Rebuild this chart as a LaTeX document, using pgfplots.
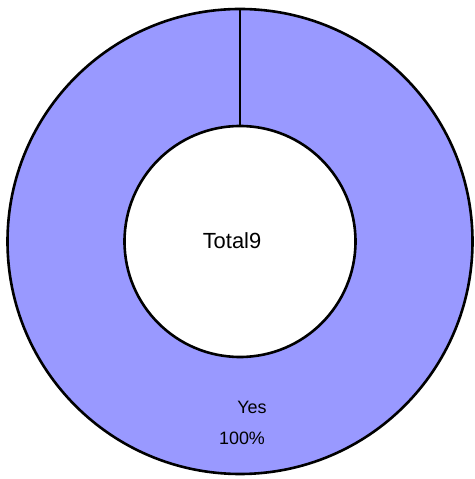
\documentclass[border=0pt]{standalone}
\usepackage{pgfplots}
\pgfplotsset{compat=1.18}
\usepackage{pgfplotstable}
\usepackage{fontspec}
\setmainfont{Liberation Sans}
\definecolor{slice}{HTML}{9999FF}
\pgfplotstableread{
label value
Yes 9
}\datatable
\pgfplotstablegetelem{0}{value}\of\datatable
\let\yesval\pgfplotsretval
\begin{document}
\begin{tikzpicture}
\begin{axis}[width=475bp,height=479bp,scale only axis,
  xmin=0,xmax=475,ymin=0,ymax=479,hide axis,clip=false]
\path (rel axis cs:0,0) rectangle (rel axis cs:1,1);
\pgfmathtruncatemacro{\total}{\yesval}
\pgfmathtruncatemacro{\pct}{round(100*\yesval/\total)}
\pgfmathsetmacro{\ang}{90-360*\yesval/\total}
% ring
\fill[slice, even odd rule] (axis cs:240,237.5) circle[radius=232.5]
  (axis cs:240,237.5) circle[radius=115.5];
\draw[line width=2.6bp] (axis cs:240,237.5) circle[radius=232.5];
\draw[line width=2.6bp] (axis cs:240,237.5) circle[radius=115.5];
% slice boundaries
\draw[line width=2.6bp] (axis cs:{240+115.5*cos(90)},{237.5+115.5*sin(90)}) -- (axis cs:{240+232.5*cos(90)},{237.5+232.5*sin(90)});
\draw[line width=2.6bp] (axis cs:{240+115.5*cos(\ang)},{237.5+115.5*sin(\ang)}) -- (axis cs:{240+232.5*cos(\ang)},{237.5+232.5*sin(\ang)});
% labels
\node[font=\fontsize{22}{25}\selectfont] at (axis cs:232,238) {Total\total};
\node[font=\fontsize{18}{21}\selectfont] at (axis cs:252,72) {Yes};
\node[font=\fontsize{18}{21}\selectfont] at (axis cs:242,41) {\pct\%};
\end{axis}
\end{tikzpicture}
\end{document}
